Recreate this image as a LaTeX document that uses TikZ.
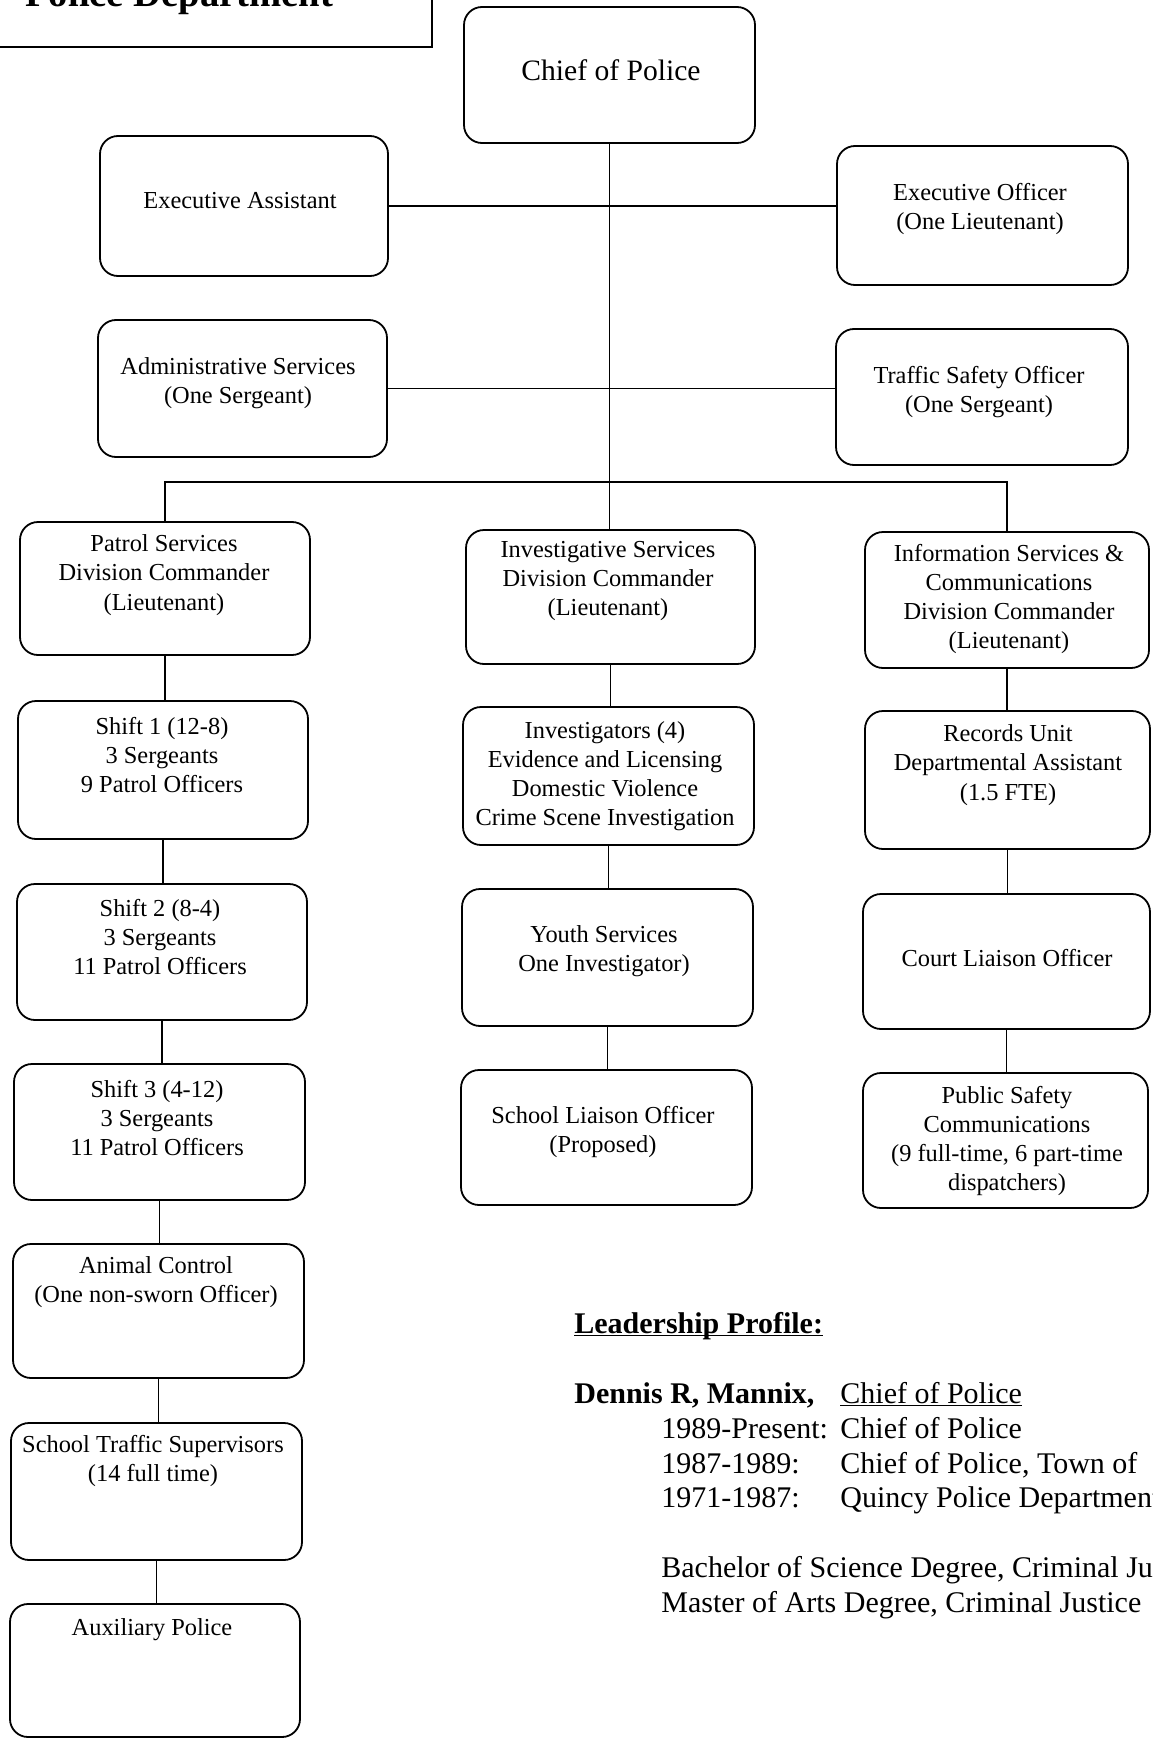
\documentclass[tikz,border=0pt]{standalone}
\usepackage{fontspec}
\setmainfont{Liberation Serif}
\newcommand\myul[1]{\underline{\smash{#1}}}
\begin{document}
\begin{tikzpicture}[x=0.5pt,y=-0.5pt,
  orgbox/.style={draw, line width=0.9pt, rounded corners=9pt, inner sep=0pt},
  txt/.style={align=center, inner sep=0pt, font=\fontsize{12.2}{14.6}\selectfont},
  bigtxt/.style={align=center, inner sep=0pt, font=\fontsize{14.8}{17}\selectfont},
  prof/.style={anchor=base west, inner sep=0pt, font=\fontsize{15}{18}\selectfont},
  profb/.style={anchor=base west, inner sep=0pt, font=\bfseries\fontsize{15}{18}\selectfont},
  link/.style={line width=0.8pt},
  sidelink/.style={line width=0.8pt, xshift=-1.5pt}]
\useasboundingbox (0,0) rectangle (1152,1739);
\fill[white] (0,0) rectangle (1152,1739);

% title box (cut off at the top)
\node[draw, line width=0.9pt, minimum width=250pt, minimum height=60pt, anchor=south east, inner sep=0pt] (titlebox) at (433,48) {};
\node[anchor=base west, inner sep=0pt, font=\bfseries\fontsize{19.3}{22}\selectfont] (titletext) at (25,7) {Police Department};

% boxes
\node[orgbox, minimum width=145.5pt, minimum height=68pt] (chief) at (609.5,75) {};
\node[orgbox, minimum width=144pt, minimum height=70pt] (execA) at (244,206) {};
\node[orgbox, minimum width=145.5pt, minimum height=69.5pt] (execO) at (982.5,215.5) {};
\node[orgbox, minimum width=144.5pt, minimum height=68.5pt] (admin) at (242.5,388.5) {};
\node[orgbox, minimum width=146pt, minimum height=68pt] (traffic) at (982,397) {};
\node[orgbox, minimum width=145pt, minimum height=66.5pt] (patrol) at (165,588.5) {};
\node[orgbox, minimum width=144.5pt, minimum height=67pt] (invest) at (610.5,597) {};
\node[orgbox, minimum width=142pt, minimum height=68pt] (info) at (1007,600) {};
\node[orgbox, minimum width=145pt, minimum height=69pt] (shift1) at (163,770) {};
\node[orgbox, minimum width=145.5pt, minimum height=69pt] (investigators) at (608.5,776) {};
\node[orgbox, minimum width=142.5pt, minimum height=69pt] (records) at (1007.5,780) {};
\node[orgbox, minimum width=145pt, minimum height=68pt] (shift2) at (162,952) {};
\node[orgbox, minimum width=145.5pt, minimum height=68.5pt] (youth) at (607.5,957.5) {};
\node[orgbox, minimum width=143.5pt, minimum height=67.5pt] (court) at (1006.5,961.5) {};
\node[orgbox, minimum width=145.5pt, minimum height=68pt] (shift3) at (159.5,1132) {};
\node[orgbox, minimum width=145.5pt, minimum height=67.5pt] (liaison) at (606.5,1137.5) {};
\node[orgbox, minimum width=142.5pt, minimum height=67.5pt] (public) at (1005.5,1140.5) {};
\node[orgbox, minimum width=145.5pt, minimum height=67pt] (animal) at (158.5,1311) {};
\node[orgbox, minimum width=145.5pt, minimum height=68.5pt] (schooltraffic) at (156.5,1491.5) {};
\node[orgbox, minimum width=145pt, minimum height=66.5pt] (aux) at (155,1670.5) {};

% texts
\node[bigtxt] (chief-t) at (611,70) {Chief of Police};
\node[txt] (execA-t) at (240,201) {Executive Assistant};
\node[txt] (execO-t) at (980,209) {Executive Officer\\(One Lieutenant)};
\node[txt] (admin-t) at (238,383) {Administrative Services\\(One Sergeant)};
\node[txt] (traffic-t) at (979,392) {Traffic Safety Officer\\(One Sergeant)};
\node[txt] (patrol-t) at (164,575) {Patrol Services\\Division Commander\\(Lieutenant)};
\node[txt] (invest-t) at (608,581) {Investigative Services\\Division Commander\\(Lieutenant)};
\node[txt] (info-t) at (1009,599) {Information Services \&\\Communications\\Division Commander\\(Lieutenant)};
\node[txt] (shift1-t) at (162,755) {Shift 1 (12-8)\\3 Sergeants\\9 Patrol Officers};
\node[txt] (investigators-t) at (605,776) {Investigators (4)\\Evidence and Licensing\\Domestic Violence\\Crime Scene Investigation};
\node[txt] (records-t) at (1008,765) {Records Unit\\Departmental Assistant\\(1.5 FTE)};
\node[txt] (shift2-t) at (160,937) {Shift 2 (8-4)\\3 Sergeants\\11 Patrol Officers};
\node[txt] (youth-t) at (604,951) {Youth Services\\One Investigator)};
\node[txt] (court-t) at (1007,958) {Court Liaison Officer};
\node[txt] (shift3-t) at (157,1118) {Shift 3 (4-12)\\3 Sergeants\\11 Patrol Officers};
\node[txt] (liaison-t) at (603,1132) {School Liaison Officer\\(Proposed)};
\node[txt] (public-t) at (1007,1141) {Public Safety\\Communications\\(9 full-time, 6 part-time\\dispatchers)};
\node[txt] (animal-t) at (156,1282) {Animal Control\\(One non-sworn Officer)};
\node[txt] (schooltraffic-t) at (153,1461) {School Traffic Supervisors\\(14 full time)};
\node[txt] (aux-t) at (152,1630) {Auxiliary Police};

% connectors
\coordinate (bus) at (610,482);
\draw[link] (chief.south) -- (chief.south |- invest.north);
\draw[link] (execA.east) -- (execA.east -| execO.west);
\draw[link] (admin.east) -- (admin.east -| traffic.west);
\draw[link] (patrol.north) |- (bus) -| (info.north);
\draw[sidelink] (patrol.south) -- (patrol.south |- shift1.north);
\draw[sidelink] (shift1.south) -- (shift1.south |- shift2.north);
\draw[sidelink] (shift2.south) -- (shift2.south |- shift3.north);
\draw[sidelink] (shift3.south) -- (shift3.south |- animal.north);
\draw[sidelink] (animal.south) -- (animal.south |- schooltraffic.north);
\draw[sidelink] (schooltraffic.south) -- (schooltraffic.south |- aux.north);
\draw[sidelink] (invest.south) -- (invest.south |- investigators.north);
\draw[sidelink] (investigators.south) -- (investigators.south |- youth.north);
\draw[sidelink] (youth.south) -- (youth.south |- liaison.north);
\draw[link] (info.south) -- (info.south |- records.north);
\draw[link] (records.south) -- (records.south |- court.north);
\draw[link] (court.south) -- (court.south |- public.north);

% leadership profile
\begin{scope}
\clip (0,0) rectangle (1152,1739);
\node[profb] (lp) at (574,1333) {\myul{Leadership Profile:}};
\node[profb] (name) at (574,1403) {Dennis R, Mannix,};
\node[prof] (role) at (840,1403) {\myul{Chief of Police}};
\node[prof] (y1) at (661,1438) {1989-Present:};
\node[prof] (r1) at (840,1438) {Chief of Police};
\node[prof] (y2) at (661,1473) {1987-1989:};
\node[prof] (r2) at (840,1473) {Chief of Police, Town of};
\node[prof] (y3) at (661,1507) {1971-1987:};
\node[prof] (r3) at (840,1507) {Quincy Police Department};
\node[prof] (ed1) at (661,1577) {Bachelor of Science Degree, Criminal Justice};
\node[prof] (ed2) at (661,1612) {Master of Arts Degree, Criminal Justice};
\end{scope}
\end{tikzpicture}
\end{document}
